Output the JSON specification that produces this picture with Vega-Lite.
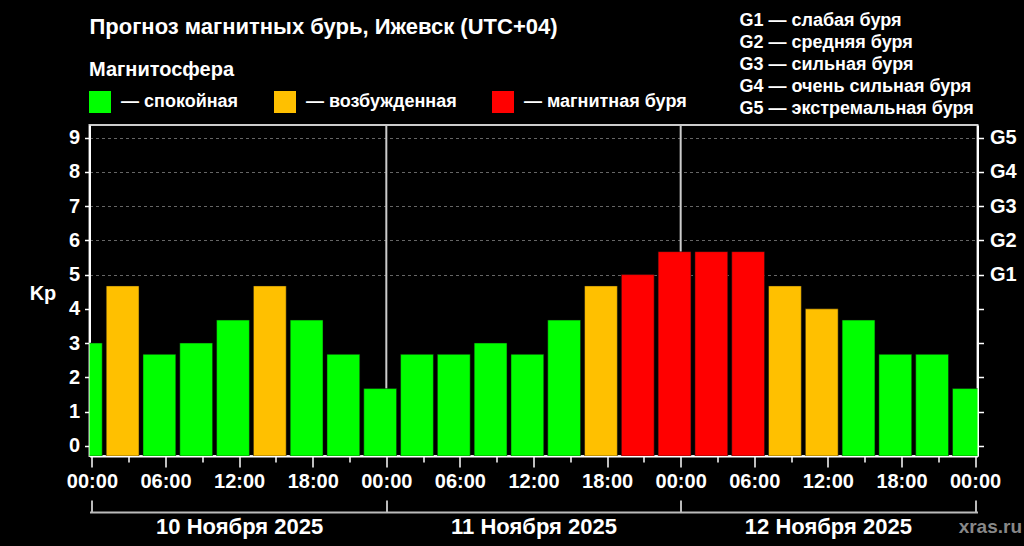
{
  "$schema": "https://vega.github.io/schema/vega-lite/v6.json",
  "width": 888,
  "height": 331,
  "autosize": {"type": "none"},
  "padding": {"left": 89.5, "top": 125, "right": 46.5, "bottom": 90},
  "background": "#000000",
  "title": {
    "text": "Прогноз магнитных бурь, Ижевск (UTC+04)",
    "anchor": "start",
    "frame": "group",
    "baseline": "alphabetic",
    "offset": -44,
    "fontSize": 22,
    "fontWeight": "bold",
    "color": "#ffffff"
  },
  "datasets": {
    "kp": [
      {"start": "2025-11-09T22:00:00Z", "end": "2025-11-10T01:00:00Z", "kp": 3.0, "state": "спокойная"},
      {"start": "2025-11-10T01:00:00Z", "end": "2025-11-10T04:00:00Z", "kp": 4.67, "state": "возбужденная"},
      {"start": "2025-11-10T04:00:00Z", "end": "2025-11-10T07:00:00Z", "kp": 2.67, "state": "спокойная"},
      {"start": "2025-11-10T07:00:00Z", "end": "2025-11-10T10:00:00Z", "kp": 3.0, "state": "спокойная"},
      {"start": "2025-11-10T10:00:00Z", "end": "2025-11-10T13:00:00Z", "kp": 3.67, "state": "спокойная"},
      {"start": "2025-11-10T13:00:00Z", "end": "2025-11-10T16:00:00Z", "kp": 4.67, "state": "возбужденная"},
      {"start": "2025-11-10T16:00:00Z", "end": "2025-11-10T19:00:00Z", "kp": 3.67, "state": "спокойная"},
      {"start": "2025-11-10T19:00:00Z", "end": "2025-11-10T22:00:00Z", "kp": 2.67, "state": "спокойная"},
      {"start": "2025-11-10T22:00:00Z", "end": "2025-11-11T01:00:00Z", "kp": 1.67, "state": "спокойная"},
      {"start": "2025-11-11T01:00:00Z", "end": "2025-11-11T04:00:00Z", "kp": 2.67, "state": "спокойная"},
      {"start": "2025-11-11T04:00:00Z", "end": "2025-11-11T07:00:00Z", "kp": 2.67, "state": "спокойная"},
      {"start": "2025-11-11T07:00:00Z", "end": "2025-11-11T10:00:00Z", "kp": 3.0, "state": "спокойная"},
      {"start": "2025-11-11T10:00:00Z", "end": "2025-11-11T13:00:00Z", "kp": 2.67, "state": "спокойная"},
      {"start": "2025-11-11T13:00:00Z", "end": "2025-11-11T16:00:00Z", "kp": 3.67, "state": "спокойная"},
      {"start": "2025-11-11T16:00:00Z", "end": "2025-11-11T19:00:00Z", "kp": 4.67, "state": "возбужденная"},
      {"start": "2025-11-11T19:00:00Z", "end": "2025-11-11T22:00:00Z", "kp": 5.0, "state": "магнитная буря"},
      {"start": "2025-11-11T22:00:00Z", "end": "2025-11-12T01:00:00Z", "kp": 5.67, "state": "магнитная буря"},
      {"start": "2025-11-12T01:00:00Z", "end": "2025-11-12T04:00:00Z", "kp": 5.67, "state": "магнитная буря"},
      {"start": "2025-11-12T04:00:00Z", "end": "2025-11-12T07:00:00Z", "kp": 5.67, "state": "магнитная буря"},
      {"start": "2025-11-12T07:00:00Z", "end": "2025-11-12T10:00:00Z", "kp": 4.67, "state": "возбужденная"},
      {"start": "2025-11-12T10:00:00Z", "end": "2025-11-12T13:00:00Z", "kp": 4.0, "state": "возбужденная"},
      {"start": "2025-11-12T13:00:00Z", "end": "2025-11-12T16:00:00Z", "kp": 3.67, "state": "спокойная"},
      {"start": "2025-11-12T16:00:00Z", "end": "2025-11-12T19:00:00Z", "kp": 2.67, "state": "спокойная"},
      {"start": "2025-11-12T19:00:00Z", "end": "2025-11-12T22:00:00Z", "kp": 2.67, "state": "спокойная"},
      {"start": "2025-11-12T22:00:00Z", "end": "2025-11-13T01:00:00Z", "kp": 1.67, "state": "спокойная"}
    ],
    "days": [
      {"day": "2025-11-11T00:00:00Z"},
      {"day": "2025-11-12T00:00:00Z"}
    ],
    "levels": [
      {"kp": 5, "label": "G1 — слабая буря"},
      {"kp": 6, "label": "G2 — средняя буря"},
      {"kp": 7, "label": "G3 — сильная буря"},
      {"kp": 8, "label": "G4 — очень сильная буря"},
      {"kp": 9, "label": "G5 — экстремальная буря"}
    ]
  },
  "layer": [
    {
      "data": {"name": "days"},
      "mark": {"type": "rule", "color": "#cccccc", "strokeWidth": 2},
      "encoding": {
        "x": {
          "field": "day",
          "type": "temporal",
          "scale": {
            "type": "utc",
            "domain": [
              {"year": 2025, "month": 11, "date": 9, "hours": 23, "minutes": 48, "utc": true},
              {"year": 2025, "month": 11, "date": 13, "hours": 0, "minutes": 12, "utc": true}
            ]
          },
          "axis": {
            "orient": "bottom",
            "offset": 56,
            "values": [
              {"year": 2025, "month": 11, "date": 10, "hours": 0, "utc": true},
              {"year": 2025, "month": 11, "date": 10, "hours": 12, "utc": true},
              {"year": 2025, "month": 11, "date": 11, "hours": 0, "utc": true},
              {"year": 2025, "month": 11, "date": 11, "hours": 12, "utc": true},
              {"year": 2025, "month": 11, "date": 12, "hours": 0, "utc": true},
              {"year": 2025, "month": 11, "date": 12, "hours": 12, "utc": true},
              {"year": 2025, "month": 11, "date": 13, "hours": 0, "utc": true}
            ],
            "labelExpr": "utchours(datum.value) == 12 ? utcFormat(datum.value, '%d') + ' Ноября ' + utcFormat(datum.value, '%Y') : ''",
            "tickSize": -12,
            "tickOpacity": {"condition": {"test": "utchours(datum.value) == 0", "value": 1}, "value": 0},
            "tickColor": "#bbbbbb",
            "tickWidth": 2,
            "domainColor": "#bbbbbb",
            "domainWidth": 2,
            "labelPadding": 16,
            "labelFontSize": 22,
            "labelBaseline": "top",
            "grid": false,
            "title": "xras.ru",
            "titleColor": "#888888",
            "titleFontSize": 19,
            "titleAnchor": "end",
            "titleAlign": "right",
            "titleBaseline": "alphabetic",
            "titleX": 932,
            "titleY": 20
          }
        }
      }
    },
    {
      "data": {"name": "kp"},
      "mark": {"type": "bar", "xOffset": 2, "x2Offset": -2, "clip": true, "stroke": "#111111", "strokeWidth": 0.5},
      "encoding": {
        "x": {
          "field": "start",
          "type": "temporal",
          "axis": {
            "orient": "bottom",
            "values": [
              {"year": 2025, "month": 11, "date": 10, "hours": 0, "utc": true},
              {"year": 2025, "month": 11, "date": 10, "hours": 3, "utc": true},
              {"year": 2025, "month": 11, "date": 10, "hours": 6, "utc": true},
              {"year": 2025, "month": 11, "date": 10, "hours": 9, "utc": true},
              {"year": 2025, "month": 11, "date": 10, "hours": 12, "utc": true},
              {"year": 2025, "month": 11, "date": 10, "hours": 15, "utc": true},
              {"year": 2025, "month": 11, "date": 10, "hours": 18, "utc": true},
              {"year": 2025, "month": 11, "date": 10, "hours": 21, "utc": true},
              {"year": 2025, "month": 11, "date": 11, "hours": 0, "utc": true},
              {"year": 2025, "month": 11, "date": 11, "hours": 3, "utc": true},
              {"year": 2025, "month": 11, "date": 11, "hours": 6, "utc": true},
              {"year": 2025, "month": 11, "date": 11, "hours": 9, "utc": true},
              {"year": 2025, "month": 11, "date": 11, "hours": 12, "utc": true},
              {"year": 2025, "month": 11, "date": 11, "hours": 15, "utc": true},
              {"year": 2025, "month": 11, "date": 11, "hours": 18, "utc": true},
              {"year": 2025, "month": 11, "date": 11, "hours": 21, "utc": true},
              {"year": 2025, "month": 11, "date": 12, "hours": 0, "utc": true},
              {"year": 2025, "month": 11, "date": 12, "hours": 3, "utc": true},
              {"year": 2025, "month": 11, "date": 12, "hours": 6, "utc": true},
              {"year": 2025, "month": 11, "date": 12, "hours": 9, "utc": true},
              {"year": 2025, "month": 11, "date": 12, "hours": 12, "utc": true},
              {"year": 2025, "month": 11, "date": 12, "hours": 15, "utc": true},
              {"year": 2025, "month": 11, "date": 12, "hours": 18, "utc": true},
              {"year": 2025, "month": 11, "date": 12, "hours": 21, "utc": true},
              {"year": 2025, "month": 11, "date": 13, "hours": 0, "utc": true}
            ],
            "labelExpr": "utchours(datum.value) % 6 == 0 ? utcFormat(datum.value, '%H:%M') : ''",
            "tickSize": 11,
            "tickDash": {"condition": {"test": "utchours(datum.value) % 6 == 0", "value": [12, 0]}, "value": [6, 20]},
            "labelPadding": 4.5,
            "labelFontSize": 20,
            "labelBaseline": "top",
            "labelOverlap": false,
            "labelFlush": false,
            "labelBound": false,
            "grid": false,
            "title": null
          }
        },
        "x2": {"field": "end"},
        "y": {
          "field": "kp",
          "type": "quantitative",
          "scale": {"domain": [-0.3, 9.37], "nice": false, "zero": false},
          "axis": {
            "orient": "left",
            "values": [0, 1, 2, 3, 4, 5, 6, 7, 8, 9],
            "tickSize": 5,
            "labelPadding": 5,
            "labelFontSize": 20,
            "grid": true,
            "gridDash": [3, 3],
            "gridColor": "#666666",
            "gridWidth": 1,
            "gridOpacity": {"condition": {"test": "datum.value >= 5", "value": 1}, "value": 0},
            "title": "Kp",
            "titleAngle": 0,
            "titleFontSize": 20,
            "titleAlign": "center",
            "titleBaseline": "alphabetic",
            "titleX": -47,
            "titleY": 174
          }
        },
        "y2": {"datum": -0.3},
        "color": {
          "field": "state",
          "type": "nominal",
          "scale": {
            "domain": ["спокойная", "возбужденная", "магнитная буря"],
            "range": ["#00ff00", "#ffc000", "#ff0000"]
          },
          "legend": {
            "orient": "none",
            "legendX": -0.5,
            "legendY": -65,
            "direction": "horizontal",
            "title": "Магнитосфера",
            "titleFontSize": 20,
            "titlePadding": 11,
            "symbolType": "square",
            "symbolSize": 484,
            "symbolStrokeWidth": 0,
            "symbolOpacity": 1,
            "labelFontSize": 18,
            "labelOffset": 10,
            "columnPadding": 35,
            "labelExpr": "'— ' + datum.label",
            "padding": 0
          }
        }
      }
    },
    {
      "data": {"name": "levels"},
      "mark": {"type": "point", "opacity": 0},
      "encoding": {
        "y": {
          "field": "kp",
          "type": "quantitative",
          "axis": {
            "orient": "right",
            "values": [0, 1, 2, 3, 4, 5, 6, 7, 8, 9],
            "labelExpr": "datum.value >= 5 ? 'G' + (datum.value - 4) : ''",
            "tickSize": 6,
            "labelPadding": 6,
            "labelFontSize": 20,
            "grid": false,
            "title": null
          }
        },
        "shape": {
          "field": "label",
          "type": "nominal",
          "legend": {
            "orient": "none",
            "legendX": 632,
            "legendY": -113,
            "title": null,
            "symbolOpacity": 0,
            "symbolSize": 0,
            "symbolStrokeWidth": 0,
            "labelOffset": 0,
            "labelFontSize": 18,
            "rowPadding": 4,
            "padding": 0,
            "direction": "vertical"
          }
        }
      }
    }
  ],
  "resolve": {"axis": {"x": "independent", "y": "independent"}},
  "config": {
    "font": "Liberation Sans",
    "view": {"stroke": "#cccccc", "strokeWidth": 2},
    "axis": {
      "labelColor": "#ffffff",
      "labelFontWeight": "bold",
      "titleColor": "#ffffff",
      "titleFontWeight": "bold",
      "domainColor": "#ffffff",
      "domainWidth": 2,
      "tickColor": "#ffffff",
      "tickWidth": 1.5
    },
    "legend": {
      "labelColor": "#ffffff",
      "labelFontWeight": "bold",
      "titleColor": "#ffffff",
      "titleFontWeight": "bold",
      "labelLimit": 400
    }
  }
}
